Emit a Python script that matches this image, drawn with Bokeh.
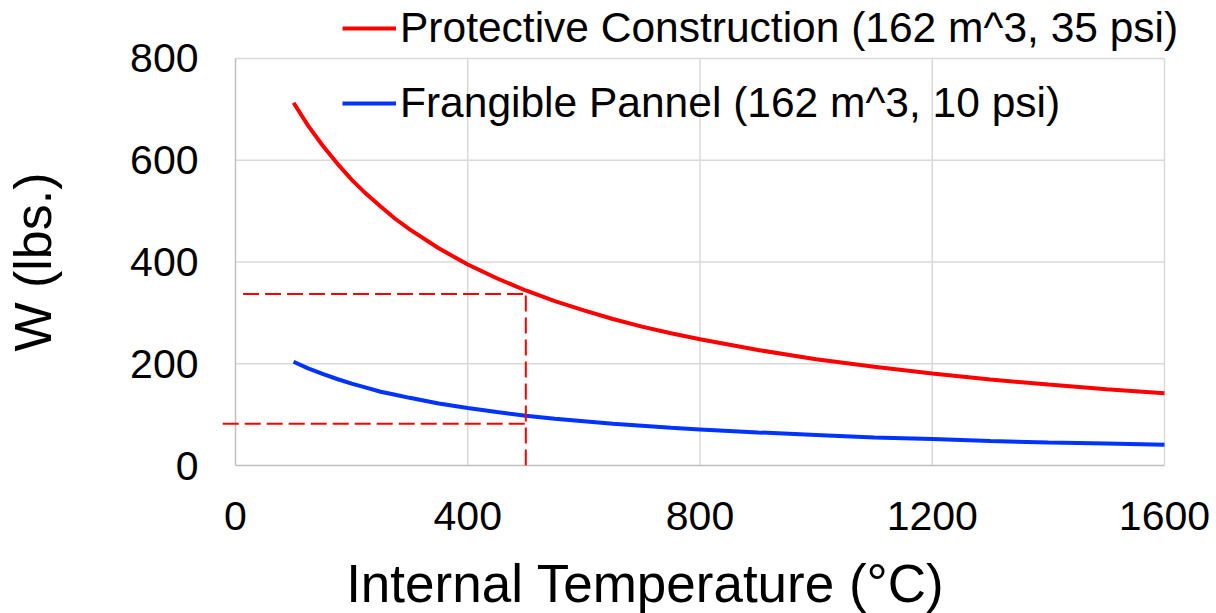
import math
from bokeh.plotting import figure
from bokeh.models import (FixedTicker, Legend, LegendItem, Arrow, Label,
                          ColumnDataSource, Range1d)
from bokeh.embed import file_html
from bokeh.resources import INLINE

# ---- data ----
temperature = [100, 125, 150, 175, 200, 225, 250, 275, 300, 350, 400, 450, 500,
               550, 600, 650, 700, 750, 800, 900, 1000, 1100, 1200, 1300, 1400,
               1500, 1600]
protective = [713, 668, 629, 594, 562, 534, 509, 485, 464, 427, 395, 368, 344,
              323, 305, 288, 273, 260, 248, 227, 209, 194, 181, 169, 159, 150, 142]
frangible = [204, 191, 180, 170, 161, 153, 145, 139, 133, 122, 113, 105, 98,
             92, 87, 82, 78, 74, 71, 65, 60, 55, 52, 48, 45, 43, 41]

series_names = ["Protective Construction (162 m^3, 35 psi)",
                "Frangible Pannel (162 m^3, 10 psi)"]
x_title = "Internal Temperature (°C)"
y_title = "W (lbs.)"

x_ticks = [0, 400, 800, 1200, 1600]
y_ticks = [0, 200, 400, 600, 800]

ref_temperature = 500
ref_levels = [337, 82]
ref_starts = [13, -22]

FONT = "Liberation Sans"
RED = "#FF0000"
BLUE = "#0033FF"
GRID = "#D9D9D9"
AXIS = "#BFBFBF"

src = ColumnDataSource(dict(t=temperature, p=protective, f=frangible))

# The frame is a bit larger than the 0-1600 / 0-800 data box so that the
# legend (which sticks out above/right) and the dashed line left of the axis
# are not clipped. Grid and axis lines stop at the data box.
p = figure(width=1216, height=613, output_backend="svg", toolbar_location=None,
           x_range=Range1d(-29.28, 1689.6), y_range=Range1d(0, 914.0),
           min_border_left=218, min_border_right=0, min_border_top=0,
           min_border_bottom=148)
p.outline_line_color = None
p.background_fill_color = "white"
p.xgrid.visible = False
p.ygrid.visible = False

n_x = len(x_ticks) - 1
n_y = len(y_ticks) - 1
# vertical grid lines
p.segment(x0=x_ticks[1:], y0=[y_ticks[0]] * n_x, x1=x_ticks[1:],
          y1=[y_ticks[-1]] * n_x, line_color=GRID, line_width=1.5,
          level="underlay")
# horizontal grid lines
p.segment(x0=[x_ticks[0]] * n_y, y0=y_ticks[1:], x1=[x_ticks[-1]] * n_y,
          y1=y_ticks[1:], line_color=GRID, line_width=1.5, level="underlay")
# left axis line at x = 0
p.segment(x0=[x_ticks[0]], y0=[y_ticks[0]], x1=[x_ticks[0]], y1=[y_ticks[-1]],
          line_color=AXIS, line_width=1.5, level="underlay")

r1 = p.line("t", "p", source=src, line_color=RED, line_width=4)
r2 = p.line("t", "f", source=src, line_color=BLUE, line_width=4)

# reference dashed lines
for lvl, st in zip(ref_levels, ref_starts):
    p.add_layout(Arrow(end=None, x_start=st, y_start=lvl,
                       x_end=ref_temperature, y_end=lvl,
                       line_color=RED, line_width=2, line_dash="16 6"))
p.add_layout(Arrow(end=None, x_start=ref_temperature, y_start=0,
                   x_end=ref_temperature, y_end=ref_levels[0],
                   line_color=RED, line_width=2, line_dash="16 6"))

# axes
for ax in (p.xaxis[0], p.yaxis[0]):
    ax.major_tick_out = 0
    ax.major_tick_in = 0
    ax.minor_tick_out = 0
    ax.minor_tick_in = 0
    ax.axis_line_width = 1.5
    ax.major_label_text_font = FONT
    ax.major_label_text_font_size = "41px"
    ax.major_label_text_color = "black"
p.xaxis.axis_line_color = AXIS
p.yaxis.axis_line_color = None
p.xaxis.ticker = FixedTicker(ticks=x_ticks)
p.yaxis.ticker = FixedTicker(ticks=y_ticks)
p.xaxis.bounds = (x_ticks[0], x_ticks[-1])
p.yaxis.bounds = (y_ticks[0], y_ticks[-1])
p.xaxis.major_label_standoff = 36
p.yaxis.major_label_standoff = 20

# axis titles (placed with the data scales; side panels are not clipped)
title_style = dict(text_font=FONT, text_color="black",
                   text_align="center", text_baseline="alphabetic")
p.add_layout(Label(x=706, y=-232, text=x_title, text_font_size="53px",
                   **title_style), "below")
p.add_layout(Label(x=-348, y=400, text=y_title, angle=math.pi / 2,
                   text_font_size="52px", **title_style), "left")

legend = Legend(items=[LegendItem(label=series_names[0], renderers=[r1]),
                       LegendItem(label=series_names[1], renderers=[r2])],
                location=(124, 337), padding=0, margin=0,
                border_line_color=None, background_fill_alpha=0,
                glyph_width=54, glyph_height=50, label_height=50,
                label_standoff=4, spacing=25,
                label_text_font=FONT, label_text_font_size="42.5px",
                label_text_color="black")
p.add_layout(legend, "center")

open("out.html", "w").write(file_html(p, INLINE))
